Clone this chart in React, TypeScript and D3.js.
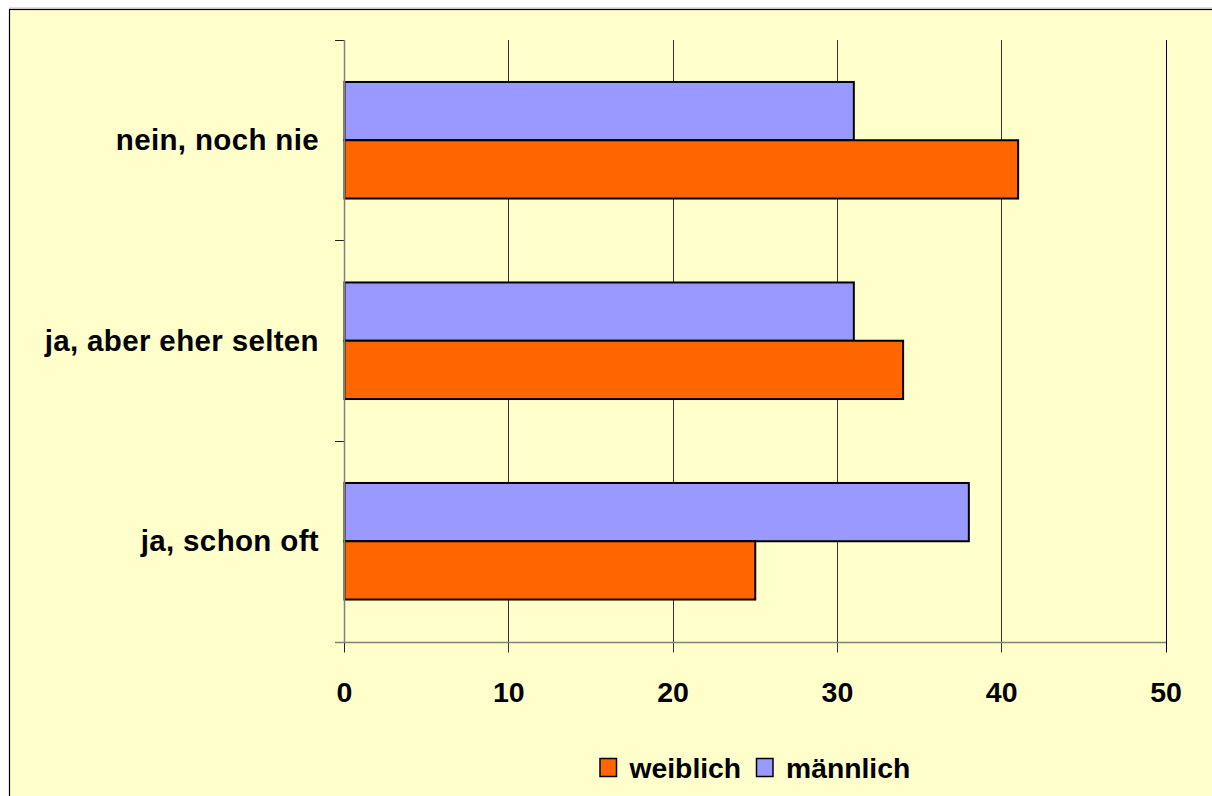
import React from "react";
import * as d3 from "d3";

const categories = ["nein, noch nie", "ja, aber eher selten", "ja, schon oft"];
const seriesNames = ["männlich", "weiblich"];
const maennlich = [31, 31, 38];
const weiblich = [41, 34, 25];
const xTicks = [0, 10, 20, 30, 40, 50];
const legendOrder = ["weiblich", "männlich"];
const colors: Record<string, string> = { "männlich": "#9999FF", "weiblich": "#FF6600" };

const crisp = (v: number) => Math.round(v - 0.5) + 0.5;

export default function App() {
  const W = 1212, H = 796;
  const x = d3.scaleLinear().domain([0, 50]).range([344.5, 1166]);
  const y = d3.scaleBand<string>().domain(categories).range([40, 641.5]).padding(0);
  const y1 = d3.scaleBand<string>().domain(seriesNames).range([0, y.step()]).paddingInner(0).paddingOuter(0.72);
  const values: Record<string, number[]> = { "männlich": maennlich, "weiblich": weiblich };
  const axisY = 642.5;
  const font = "'Liberation Sans', Arial, sans-serif";
  const catTicks = categories.map((c) => crisp(y(c) as number)).concat([axisY]);

  return (
    <svg width={W} height={H} style={{ position: "absolute", left: 0, top: 0, display: "block" }}>
      <rect x={0} y={0} width={W} height={H} fill="#ffffff" />
      <line x1={9} x2={W} y1={8} y2={8} stroke="#bbbbbb" strokeWidth={1} />
      <rect x={9.5} y={9.5} width={W + 10} height={H + 10} fill="#FFFFCC" stroke="#000" strokeWidth={1.2} />
      {/* gridlines */}
      {xTicks.slice(1).map((t) => (
        <line key={"g" + t} x1={crisp(x(t))} x2={crisp(x(t))} y1={40} y2={axisY + 10} stroke={t === 50 ? "#000" : "#333"} strokeWidth={1} />
      ))}
      <line x1={x(0)} x2={x(0)} y1={axisY} y2={axisY + 10} stroke="#222" strokeWidth={1} />
      {/* category ticks */}
      {catTicks.map((v, i) => (
        <line key={"ct" + i} x1={335} x2={x(0)} y1={v} y2={v} stroke="#222" strokeWidth={1} />
      ))}
      {/* bars */}
      {categories.map((c, i) => (
        <g key={c}>
          {seriesNames.map((s) => (
            <rect
              key={s}
              x={x(0)}
              y={(y(c) as number) + (y1(s) as number)}
              width={x(values[s][i]) - x(0)}
              height={y1.bandwidth()}
              fill={colors[s]}
              stroke="#000"
              strokeWidth={2}
            />
          ))}
        </g>
      ))}
      {/* axes */}
      <line x1={x(0)} x2={x(0)} y1={40} y2={axisY} stroke="#808080" strokeWidth={1.5} />
      <line x1={335} x2={x(50)} y1={axisY} y2={axisY} stroke="#808080" strokeWidth={1.5} />
      {/* category labels */}
      {categories.map((c) => (
        <text
          key={"l" + c}
          x={319}
          y={(y(c) as number) + y.bandwidth() / 2 + 10}
          textAnchor="end"
          fontFamily={font}
          fontWeight="bold"
          fontSize={29.5}
          letterSpacing={0.35}
          fill="#000"
        >
          {c}
        </text>
      ))}
      {/* tick labels */}
      {xTicks.map((t) => (
        <text key={"t" + t} x={x(t)} y={701.5} textAnchor="middle" fontFamily={font} fontWeight="bold" fontSize={28.5} fill="#000">
          {t}
        </text>
      ))}
      {/* legend */}
      {legendOrder.map((s, i) => {
        const lx = i === 0 ? 600 : 756.5;
        return (
          <g key={"lg" + s}>
            <rect x={lx} y={758.5} width={16.5} height={18} fill={colors[s]} stroke="#000" strokeWidth={1.5} />
            <text x={lx + 29.5} y={778.3} fontFamily={font} fontWeight="bold" fontSize={28.3} fill="#000">
              {s}
            </text>
          </g>
        );
      })}
    </svg>
  );
}
